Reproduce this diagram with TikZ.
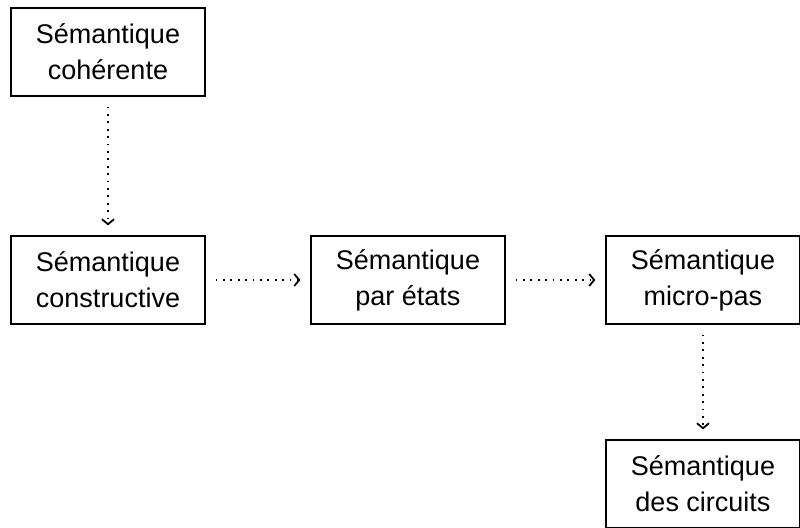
\documentclass[tikz,border=0pt]{standalone}
\usepackage{fontspec}
\setmainfont{Liberation Sans}
\usepackage{tikz}
\usetikzlibrary{arrows.meta}
\tikzset{
  box/.style={draw,line width=0.6pt,align=center,inner sep=4pt,
              minimum width=97pt,minimum height=44pt,
              font=\fontsize{13.5}{18}\selectfont},
  fl/.style={-{Straight Barb[length=2.5pt,width=6pt]},line width=0.9pt,
             dash pattern=on 0.9pt off 2.8pt,
             shorten >=5pt,shorten <=5pt},
}
\begin{document}
\begin{tikzpicture}[x=0.5pt, y=-0.5pt]
  \useasboundingbox (0,0) rectangle (800,528);
  \node[box] (coh) at (108,52) {Sémantique\\cohérente};
  \node[box] (cons) at (108,280) {Sémantique\\constructive};
  \node[box] (etats) at (408,280) {Sémantique\\par états};
  \node[box] (micro) at (703,280) {Sémantique\\micro-pas};
  \node[box] (circ) at (703,484) {Sémantique\\des circuits};
  \draw[fl] (coh) -- (cons);
  \draw[fl] (cons) -- (etats);
  \draw[fl] (etats) -- (micro);
  \draw[fl] (micro) -- (circ);
\end{tikzpicture}
\end{document}
